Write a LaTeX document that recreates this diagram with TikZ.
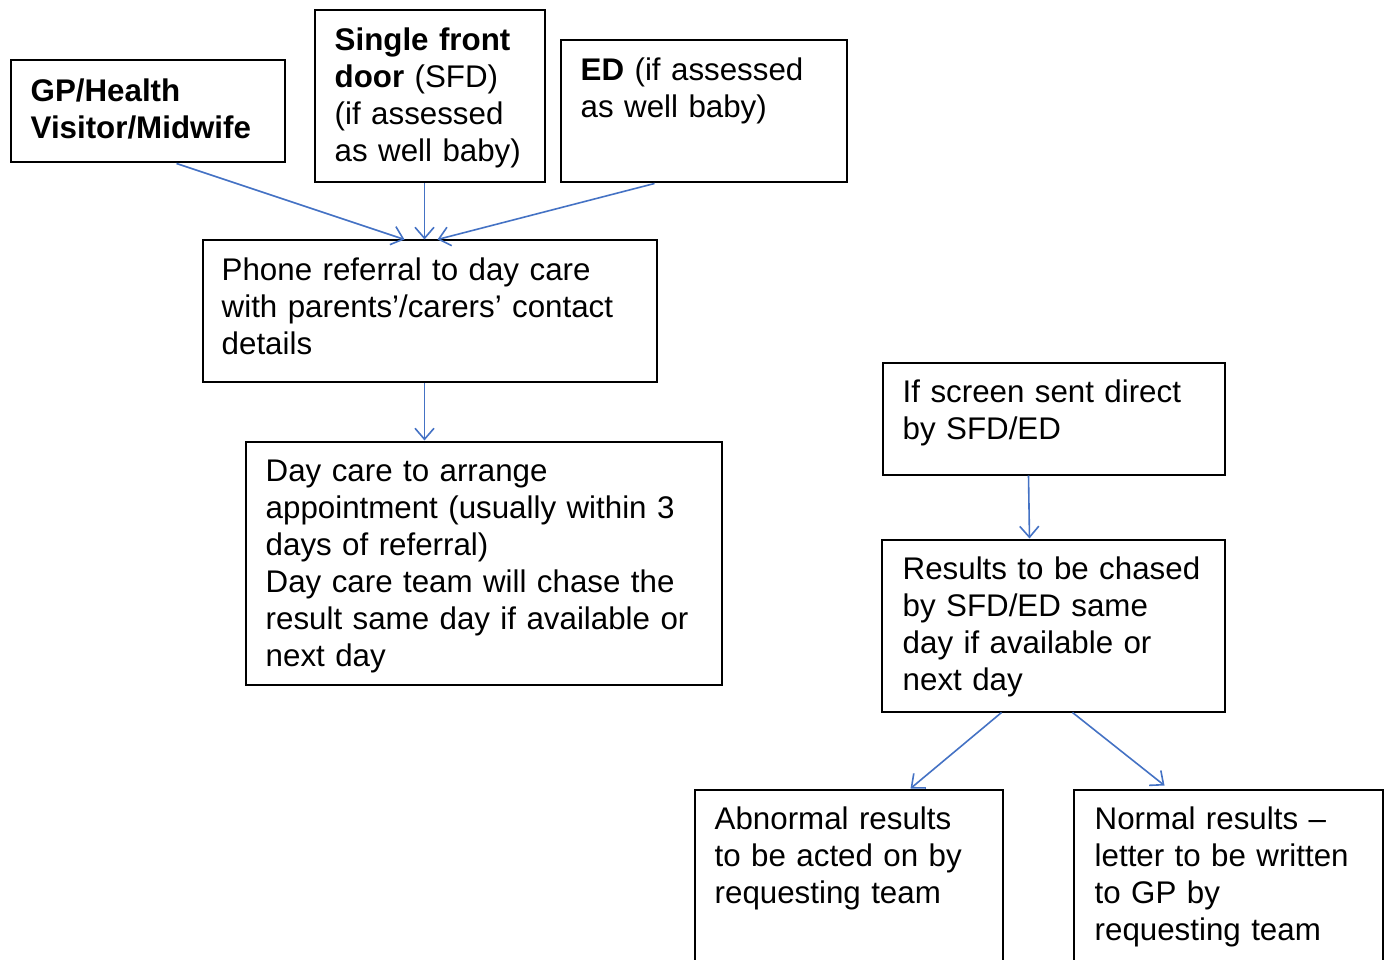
\documentclass[tikz,border=0pt]{standalone}
\usepackage{fontspec}
\setmainfont{Liberation Sans}
\usetikzlibrary{arrows.meta,calc}
\definecolor{arrowblue}{RGB}{68,114,196}
\tikzset{
  box/.style={draw=black, line width=2pt, anchor=north west, inner sep=0pt, fill=none},
  txt/.style={anchor=base west, inner sep=0pt, align=left, text width=#1, font=\fontsize{31.3}{37}\selectfont},
  flow/.style={draw=arrowblue, line width=1.6pt, -{Straight Barb[length=11pt,width=19pt]}}
}
\begin{document}
\begin{tikzpicture}[x=1pt,y=-1pt]
\clip (0,0) rectangle (1384,960);
\useasboundingbox (0,0) rectangle (1384,960);
% boxes
\node[box, minimum width=274pt, minimum height=102pt] (gp) at (9.5,59.5) {};
\node[box, minimum width=230pt, minimum height=172pt] (sfd) at (313.5,9.5) {};
\node[box, minimum width=286pt, minimum height=142pt] (ed) at (559.5,39.5) {};
\node[box, minimum width=454pt, minimum height=141pt] (phone) at (201.5,239.5) {};
\node[box, minimum width=476pt, minimum height=243pt] (day) at (244.5,440.5) {};
\node[box, minimum width=342pt, minimum height=112pt] (screen) at (881.5,361.5) {};
\node[box, minimum width=343pt, minimum height=172pt] (results) at (880.5,538.5) {};
\node[box, minimum width=308pt, minimum height=220pt] (abn) at (693.5,788.5) {};
\node[box, minimum width=309pt, minimum height=220pt] (normal) at (1072.5,788.5) {};
% texts
\node[txt=260pt] (tgp) at ($(gp.north west)+(21,42)$) {\textbf{GP/Health}\\\textbf{Visitor/Midwife}};
\node[txt=220pt] (tsfd) at ($(sfd.north west)+(21,41)$) {\textbf{Single front}\\\textbf{door} (SFD)\\(if assessed\\as well baby)};
\node[txt=270pt] (ted) at ($(ed.north west)+(21,41)$) {\textbf{ED} (if assessed\\as well baby)};
\node[txt=440pt] (tphone) at ($(phone.north west)+(20,41)$) {Phone referral to day care\\with parents'/carers' contact\\details};
\node[txt=460pt] (tday) at ($(day.north west)+(21,41)$) {Day care to arrange\\appointment (usually within 3\\days of referral)\\Day care team will chase the\\result same day if available or\\next day};
\node[txt=330pt] (tscreen) at ($(screen.north west)+(21,41)$) {If screen sent direct\\by SFD/ED};
\node[txt=330pt] (tresults) at ($(results.north west)+(22,41)$) {Results to be chased\\by SFD/ED same\\day if available or\\next day};
\node[txt=300pt] (tabn) at ($(abn.north west)+(21,41)$) {Abnormal results\\to be acted on by\\requesting team};
\node[txt=300pt] (tnormal) at ($(normal.north west)+(22,41)$) {Normal results --\\letter to be written\\to GP by\\requesting team};
% connectors
\draw[flow] ($(gp.south west)+(167,0)$) -- ($(phone.north west)+(203,0)$);
\draw[flow] ($(sfd.south west)+(111,0)$) -- ($(phone.north west)+(223,0)$);
\draw[flow] ($(ed.south west)+(95,0)$) -- ($(phone.north west)+(236,0)$);
\draw[flow] ($(phone.south west)+(223,0)$) -- ($(day.north west)+(180,0)$);
\draw[flow] ($(screen.south west)+(147,0)$) -- ($(results.north west)+(149,0)$);
\draw[flow] ($(results.south west)+(121,0)$) -- ($(abn.north west)+(217,0)$);
\draw[flow] ($(results.south west)+(192,0)$) -- ($(normal.north west)+(92,-3)$);
\end{tikzpicture}
\end{document}
